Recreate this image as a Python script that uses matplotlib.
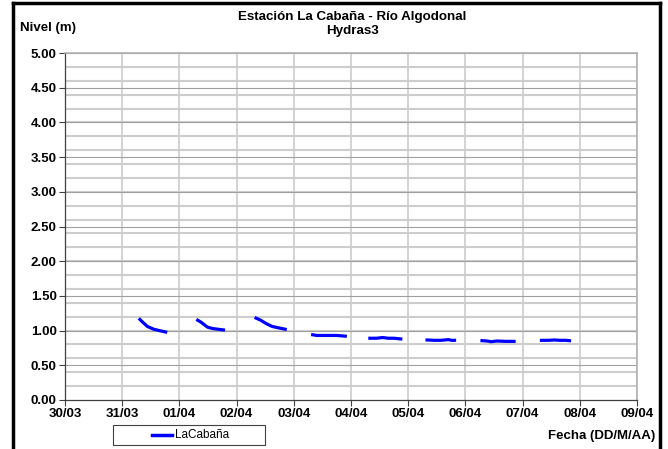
import numpy as np
import matplotlib
matplotlib.use("Agg")
import matplotlib.pyplot as plt
from matplotlib.lines import Line2D
from matplotlib.patches import Rectangle

plt.rcParams['font.family'] = ['Liberation Sans', 'DejaVu Sans']

# Tick labels (days since 30/03)
day_labels = ["30/03", "31/03", "01/04", "02/04", "03/04", "04/04",
              "05/04", "06/04", "07/04", "08/04", "09/04"]

# Each daily segment: time in days since 30/03, level (m)
seg1_t = [1.31, 1.36, 1.44, 1.55, 1.65, 1.76]
seg1_v = [1.16, 1.12, 1.06, 1.02, 1.00, 0.98]
seg2_t = [2.32, 2.38, 2.49, 2.58, 2.67, 2.77]
seg2_v = [1.15, 1.12, 1.05, 1.03, 1.02, 1.01]
seg3_t = [3.34, 3.42, 3.52, 3.62, 3.73, 3.85]
seg3_v = [1.18, 1.15, 1.10, 1.06, 1.04, 1.02]
seg4_t = [4.33, 4.40, 4.50, 4.62, 4.75, 4.90]
seg4_v = [0.94, 0.93, 0.93, 0.93, 0.93, 0.92]
seg5_t = [5.33, 5.45, 5.55, 5.65, 5.75, 5.87]
seg5_v = [0.89, 0.89, 0.90, 0.89, 0.89, 0.88]
seg6_t = [6.33, 6.45, 6.58, 6.70, 6.76, 6.81]
seg6_v = [0.865, 0.86, 0.86, 0.87, 0.86, 0.86]
seg7_t = [7.29, 7.38, 7.45, 7.55, 7.70, 7.85]
seg7_v = [0.855, 0.85, 0.84, 0.85, 0.845, 0.845]
seg8_t = [8.33, 8.45, 8.55, 8.65, 8.75, 8.82]
seg8_v = [0.86, 0.86, 0.865, 0.86, 0.86, 0.855]

segments = [(seg1_t, seg1_v), (seg2_t, seg2_v), (seg3_t, seg3_v), (seg4_t, seg4_v),
            (seg5_t, seg5_v), (seg6_t, seg6_v), (seg7_t, seg7_v), (seg8_t, seg8_v)]

t_all, v_all = [], []
for t, v in segments:
    t_all += list(t) + [np.nan]
    v_all += list(v) + [np.nan]

fig = plt.figure(figsize=(6.68, 4.49), dpi=100)
ax = fig.add_axes([65/668, 1-400/449, (637-65)/668, (400-53)/449])

# Gridlines
for y in np.arange(0.2, 5.0, 0.2):
    ax.axhline(y, color='#cdcdcd', lw=1.5, zorder=0)
for y in np.arange(0.5, 5.01, 0.5):
    ax.axhline(y, color='#a0a0a0', lw=0.8, zorder=0.5)
for x in range(1, 11):
    ax.axvline(x, color='#cccccc', lw=1.2, zorder=0)

line, = ax.plot(t_all, v_all, color='#0000ff', lw=2.3, label='LaCabaña', zorder=3)

ax.set_xlim(0, 10)
ax.set_ylim(0, 5)
ax.set_xticks(range(11))
ax.set_xticklabels(day_labels, fontsize=9.5, fontweight='bold')
ax.set_yticks(np.arange(0, 5.01, 0.5))
ax.set_yticklabels([f"{v:.2f}" for v in np.arange(0, 5.01, 0.5)], fontsize=9.5, fontweight='bold')
ax.tick_params(direction='out', length=4, width=0.8, color='#404040', pad=2)
for s in ['left', 'bottom']:
    ax.spines[s].set_color('#404040')
    ax.spines[s].set_linewidth(0.9)
for s in ['top', 'right']:
    ax.spines[s].set_color('#b0b0b0')
    ax.spines[s].set_linewidth(1.2)

fig.text(352/668, 1-17/449, "Estación La Cabaña - Río Algodonal", ha='center', va='center',
         fontsize=9.6, fontweight='bold')
fig.text(352/668, 1-31/449, "Hydras3", ha='center', va='center', fontsize=9.6, fontweight='bold')
fig.text(20/668, 1-28/449, "Nivel (m)", ha='left', va='center', fontsize=9.5, fontweight='bold')
fig.text(655/668, 1-436/449, "Fecha (DD/M/AA)", ha='right', va='center', fontsize=9.5, fontweight='bold')

# Legend box (drawn to match the Excel legend placement)
fig.add_artist(Rectangle((113/668, 1-445/449), (265-113)/668, 20/449, transform=fig.transFigure,
                         facecolor='white', edgecolor='#404040', lw=0.8))
fig.add_artist(Line2D([152/668, 172/668], [1-435/449, 1-435/449], color=line.get_color(),
                      lw=2.5, transform=fig.transFigure))
fig.text(175/668, 1-435/449, line.get_label(), ha='left', va='center', fontsize=8.5)

# Outer black frame
fig.add_artist(Line2D([13/668, 13/668], [0, 1-3/449], color='black', lw=2.5, transform=fig.transFigure))
fig.add_artist(Line2D([13/668, 660/668], [1-3/449, 1-3/449], color='black', lw=2.5, transform=fig.transFigure))
fig.add_artist(Line2D([660/668, 660/668], [0, 1-3/449], color='black', lw=2.5, transform=fig.transFigure))

fig.savefig("out.png", dpi=100)
